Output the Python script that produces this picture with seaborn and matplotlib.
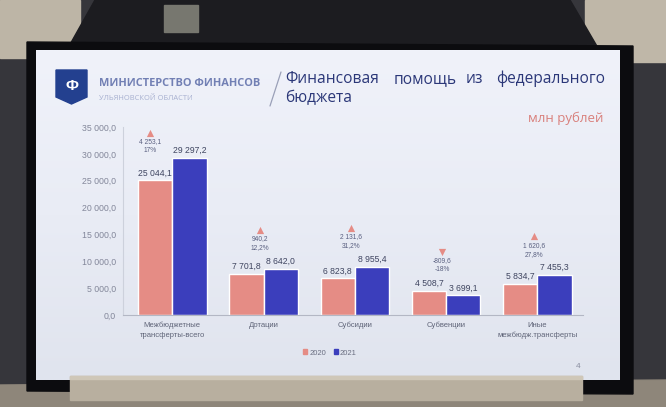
import matplotlib
matplotlib.use("Agg")
import matplotlib.pyplot as plt
from matplotlib.patches import Rectangle, Polygon, Patch
from matplotlib.colors import LinearSegmentedColormap
import numpy as np
import pandas as pd
import seaborn as sns

# data (млн рублей)
categories = ["Межбюджетные\nтрансферты-всего", "Дотации", "Субсидии",
              "Субвенции", "Иные\nмежбюдж.трансферты"]
years = ["2020", "2021"]
values_2020 = [25044.1, 7701.8, 6823.8, 4508.7, 5834.7]
values_2021 = [29297.2, 8642.0, 8955.4, 3699.1, 7455.3]
change_labels = ["4 253,1\n17%", "940,2\n12,2%", "2 131,6\n31,2%",
                 "-809,6\n-18%", "1 620,6\n27,8%"]
yticks = [0, 5000, 10000, 15000, 20000, 25000, 30000, 35000]

PINK = "#E58C85"
BLUE = "#3B3EBC"
FONT = ["Liberation Sans", "DejaVu Sans"]
HEAD = ["Open Sans", "DejaVu Sans"]


def fmt(v):
    return f"{v:,.1f}".replace(",", " ").replace(".", ",")


df = pd.DataFrame({
    "cat": categories * 2,
    "year": [years[0]] * len(categories) + [years[1]] * len(categories),
    "value": values_2020 + values_2021,
})

sns.set_style("white")
plt.rcParams["font.family"] = FONT

W, H = 666, 407
fig = plt.figure(figsize=(W / 100, H / 100), dpi=100)
fig.patch.set_facecolor("#36363b")

# ---- photo surroundings, in pixel coords
bg = fig.add_axes([0, 0, 1, 1], zorder=0)
bg.set_xlim(0, W)
bg.set_ylim(H, 0)
bg.axis("off")
bg.add_patch(Rectangle((0, 0), 80, 58, color="#bdb5a6"))
bg.add_patch(Rectangle((585, 0), 81, 62, color="#bfb7a8"))
bg.add_patch(Polygon([(95, 0), (570, 0), (598, 48), (68, 48)], color="#1c1c20"))
bg.add_patch(Rectangle((164, 5), 34, 27, color="#77776f"))
bg.add_patch(Polygon([(0, 385), (666, 380), (666, 407), (0, 407)], color="#8e867a"))
bg.add_patch(Polygon([(27, 42), (633, 46), (633, 394), (27, 391)], color="#0c0c0f"))
grad = np.linspace(0, 1, 200).reshape(-1, 1) * np.ones((1, 50))
cmap = LinearSegmentedColormap.from_list("slide", ["#f0f2fa", "#e9ecf5", "#e0e4ee"])
bg.imshow(grad, extent=(36, 620, 380, 50), cmap=cmap, aspect="auto", zorder=1)
bg.add_patch(Rectangle((70, 376), 512, 24, color="#b8af9f", zorder=2))
bg.add_patch(Rectangle((70, 376), 512, 3, color="#cfc7b8", zorder=2))
bg.set_xlim(0, W)
bg.set_ylim(H, 0)

# header
bg.add_patch(Polygon([(56, 70), (87, 70), (87, 97), (71.5, 104), (56, 97)],
                     color="#23408f", zorder=3))
bg.text(71.5, 86, "Ф", color="white", fontsize=11, fontweight="bold",
        ha="center", va="center", zorder=4)
bg.text(99, 83, "МИНИСТЕРСТВО ФИНАНСОВ", color="#7280b4", fontsize=7.9,
        fontweight="bold", family=HEAD, va="center", zorder=4)
bg.text(99, 98, "УЛЬЯНОВСКОЙ ОБЛАСТИ", color="#a7b0d0", fontsize=5.4,
        family=HEAD, va="center", zorder=4)
bg.plot([281, 270], [72, 106], color="#9aa0b8", lw=0.9, zorder=4)
title_words = [("Финансовая", 285), ("помощь", 394), ("из", 466), ("федерального", 496)]
for word, x in title_words:
    bg.text(x, 79, word, color="#2b3778", fontsize=11.2, family=HEAD,
            va="center", zorder=4)
bg.text(285, 98, "бюджета", color="#2b3778", fontsize=11.2, family=HEAD,
        va="center", zorder=4)
bg.text(603, 118, "млн рублей", color="#d9807c", fontsize=9.5, ha="right",
        family=HEAD, va="center", zorder=4)
bg.text(578, 367, "4", color="#8a8ea0", fontsize=6, ha="center", va="center", zorder=4)

# ---- the chart
ax = fig.add_axes([123 / W, 92 / H, 460 / W, 188 / H], zorder=2)
ax.set_facecolor("none")
sns.barplot(data=df, x="cat", y="value", hue="year", palette=[PINK, BLUE],
            width=0.75, saturation=1, legend=False, ax=ax)

for cont in ax.containers:
    ax.bar_label(cont, labels=[fmt(v) for v in cont.datavalues], padding=2,
                 fontsize=6.2, color="#3f4560")

for i, (a, b) in enumerate(zip(values_2020, values_2021)):
    top = max(a, b) + 7200
    x = i - 0.04
    if top > 33900:
        top = 33900
        x = i - 0.24
    ax.scatter([x], [top], marker="^" if b > a else "v", s=27, color=PINK,
               lw=0, clip_on=False, zorder=5)
    ax.annotate(change_labels[i], (x, top), xytext=(0, -3.8), textcoords="offset points",
                ha="center", va="top", fontsize=4.8, color="#5a6080", linespacing=1.4)

ax.set_ylim(0, 35000)
ax.set_xlim(-0.54, 4.5)
ax.set_yticks(yticks)
ax.set_yticklabels([fmt(v) for v in yticks])
ax.tick_params(axis="y", labelsize=6.3, labelcolor="#83879a", length=0, pad=5)
ax.tick_params(axis="x", labelsize=5.5, labelcolor="#5f6478", length=0, pad=5)
for lab in ax.get_xticklabels():
    lab.set_linespacing(1.5)
ax.set_xlabel("")
ax.set_ylabel("")
sns.despine(ax=ax)
ax.spines["left"].set_color("#cdd1dc")
ax.spines["bottom"].set_color("#b3b7c4")
ax.spines["left"].set_linewidth(0.8)
ax.spines["bottom"].set_linewidth(0.8)

handles = [Patch(color=PINK, label=years[0]), Patch(color=BLUE, label=years[1])]
fig.legend(handles=handles, loc="center", bbox_to_anchor=(330 / W, 1 - 353 / H),
           ncol=2, frameon=False, fontsize=5.5, handlelength=0.55, handleheight=0.55,
           handletextpad=0.25, columnspacing=1.0, labelcolor="#6a6e80")

fig.savefig("out.png", dpi=100, facecolor=fig.get_facecolor())
